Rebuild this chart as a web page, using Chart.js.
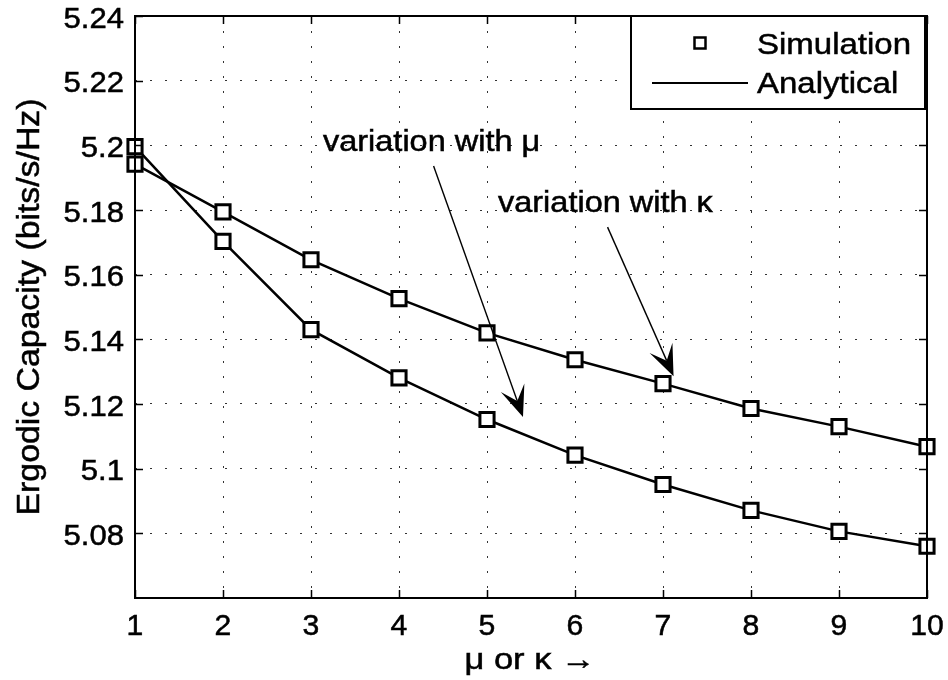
<!DOCTYPE html>
<html>
<head>
<meta charset="utf-8">
<script src="https://cdn.jsdelivr.net/npm/chart.js@4/dist/chart.umd.min.js"></script>
<style>
html, body { margin: 0; padding: 0; background: #fff; }
</style>
</head>
<body>
<canvas id="myChart" width="948" height="680"></canvas>
<script>
const xValues = [1, 2, 3, 4, 5, 6, 7, 8, 9, 10];
const muCapacity = [5.1996, 5.1703, 5.1430, 5.1281, 5.1152, 5.1042, 5.0951, 5.0871, 5.0806, 5.0760];
const kappaCapacity = [5.1942, 5.1794, 5.1646, 5.1526, 5.1420, 5.1337, 5.1263, 5.1186, 5.1130, 5.1068];
const xTickValues = [1, 2, 3, 4, 5, 6, 7, 8, 9, 10];
const yTickValues = [5.08, 5.1, 5.12, 5.14, 5.16, 5.18, 5.2, 5.22, 5.24];
const legendLabels = ['Simulation', 'Analytical'];
const xTitle = 'μ or κ →';
const yTitle = 'Ergodic Capacity (bits/s/Hz)';

// annotation text + arrows, in data coordinates
const notes = [
    { text: 'variation with μ', x: 3.136, y: 5.1983, from: [4.393, 5.1936], to: [5.409, 5.1160] },
    { text: 'variation with κ', x: 5.125, y: 5.1795, from: [6.370, 5.1747], to: [7.120, 5.1286] },
];

const FONT = '"Liberation Sans", Arial, sans-serif';

function toPoints(ys) {
    return xValues.map((x, i) => ({ x: x, y: ys[i] }));
}

// the reference text runs a bit wider and heavier than plain Arial
function drawText(ctx, text, x, y, size, sx, align, rot) {
    ctx.save();
    ctx.translate(x, y);
    if (rot) ctx.rotate(rot);
    ctx.scale(sx, 1);
    ctx.font = size + 'px ' + FONT;
    ctx.textAlign = align;
    ctx.textBaseline = 'alphabetic';
    ctx.fillStyle = '#000';
    ctx.strokeStyle = '#000';
    ctx.lineWidth = 0.5;
    ctx.fillText(text, 0, 0);
    ctx.strokeText(text, 0, 0);
    ctx.restore();
}

function drawArrow(ctx, x0, y0, x1, y1) {
    const dx = x1 - x0, dy = y1 - y0;
    const len = Math.sqrt(dx * dx + dy * dy);
    const ux = dx / len, uy = dy / len;
    const nx = -uy, ny = ux;
    const L = 31, W = 12.5, N = 17;
    ctx.save();
    ctx.strokeStyle = '#000';
    ctx.lineWidth = 1.4;
    ctx.beginPath();
    ctx.moveTo(x0, y0);
    ctx.lineTo(x1 - ux * N, y1 - uy * N);
    ctx.stroke();
    ctx.fillStyle = '#000';
    ctx.beginPath();
    ctx.moveTo(x1, y1);
    ctx.lineTo(x1 - ux * L + nx * W, y1 - uy * L + ny * W);
    ctx.lineTo(x1 - ux * N, y1 - uy * N);
    ctx.lineTo(x1 - ux * L - nx * W, y1 - uy * L - ny * W);
    ctx.closePath();
    ctx.fill();
    ctx.restore();
}

const matlabFrame = {
    id: 'matlabFrame',
    afterDatasetsDraw(chart) {
        const ctx = chart.ctx;
        const a = chart.chartArea;
        const xs = chart.scales.x, ys = chart.scales.y;
        ctx.save();
        ctx.strokeStyle = '#000';
        ctx.lineWidth = 2;
        ctx.strokeRect(a.left, a.top, a.right - a.left, a.bottom - a.top);
        ctx.lineWidth = 1.5;
        ctx.beginPath();
        xs.ticks.forEach(t => {
            const px = Math.round(xs.getPixelForValue(t.value)) + 0.5;
            ctx.moveTo(px, a.bottom); ctx.lineTo(px, a.bottom - 8);
            ctx.moveTo(px, a.top); ctx.lineTo(px, a.top + 8);
        });
        ys.ticks.forEach(t => {
            const py = Math.round(ys.getPixelForValue(t.value)) + 0.5;
            ctx.moveTo(a.left, py); ctx.lineTo(a.left + 8, py);
            ctx.moveTo(a.right, py); ctx.lineTo(a.right - 8, py);
        });
        ctx.stroke();
        ctx.restore();
    },
    afterDraw(chart) {
        const ctx = chart.ctx;
        const a = chart.chartArea;
        const xs = chart.scales.x, ys = chart.scales.y;

        // tick labels
        xs.ticks.forEach(t => {
            drawText(ctx, String(t.value), xs.getPixelForValue(t.value), a.bottom + 37, 29, 1.04, 'center');
        });
        ys.ticks.forEach(t => {
            const label = parseFloat(t.value.toFixed(2)).toString();
            drawText(ctx, label, a.left - 11, ys.getPixelForValue(t.value) + 11.5, 29, 1.07, 'right');
        });

        // axis titles
        drawText(ctx, xTitle, (a.left + a.right) / 2 - 1, a.bottom + 71, 30, 1.15, 'center');
        drawText(ctx, yTitle, 39, (a.top + a.bottom) / 2, 31, 1.09, 'center', -Math.PI / 2);

        // annotations
        notes.forEach(n => {
            drawText(ctx, n.text, xs.getPixelForValue(n.x), ys.getPixelForValue(n.y), 29, 1.12, 'left');
            drawArrow(ctx,
                xs.getPixelForValue(n.from[0]), ys.getPixelForValue(n.from[1]),
                xs.getPixelForValue(n.to[0]), ys.getPixelForValue(n.to[1]));
        });

        // legend box, top right, touching the top axis
        const lx = a.right - 296, ly = a.top, lw = 294, lh = 93;
        ctx.save();
        ctx.fillStyle = '#fff';
        ctx.fillRect(lx, ly, lw, lh);
        ctx.strokeStyle = '#000';
        ctx.lineWidth = 2;
        ctx.strokeRect(lx, ly, lw, lh);
        ctx.lineWidth = 2.5;
        ctx.strokeRect(lx + 63.5, ly + 21.5, 11, 11);
        ctx.lineWidth = 2;
        ctx.beginPath();
        ctx.moveTo(lx + 21, ly + 67);
        ctx.lineTo(lx + 117, ly + 67);
        ctx.stroke();
        ctx.restore();
        drawText(ctx, legendLabels[0], lx + 126, ly + 38, 30, 1.1, 'left');
        drawText(ctx, legendLabels[1], lx + 126, ly + 77, 30, 1.1, 'left');
    }
};

const lineStyle = {
    borderColor: '#000',
    borderWidth: 2.5,
    pointRadius: 0,
    fill: false,
    tension: 0,
    clip: false,
    order: 2,
};
const markerStyle = {
    showLine: false,
    pointStyle: 'rect',
    pointRadius: 10,
    pointBorderWidth: 3,
    pointBorderColor: '#000',
    pointBackgroundColor: '#fff',
    borderColor: '#000',
    backgroundColor: '#fff',
    clip: false,
    order: 1,
};

const data = {
    datasets: [
        Object.assign({ label: legendLabels[1], data: toPoints(muCapacity) }, lineStyle),
        Object.assign({ label: legendLabels[1], data: toPoints(kappaCapacity) }, lineStyle),
        Object.assign({ label: legendLabels[0], data: toPoints(muCapacity) }, markerStyle),
        Object.assign({ label: legendLabels[0], data: toPoints(kappaCapacity) }, markerStyle),
    ]
};

const gridStyle = {
    color: '#333',
    lineWidth: 1,
    drawTicks: false,
};

const config = {
    type: 'line',
    data: data,
    options: {
        responsive: false,
        animation: false,
        devicePixelRatio: 1,
        layout: {
            padding: { left: 0, right: 21, top: 16, bottom: 0 },
        },
        scales: {
            x: {
                type: 'linear',
                min: 1,
                max: 10,
                afterBuildTicks: s => { s.ticks = xTickValues.map(v => ({ value: v })); },
                afterFit: s => { s.height = 82; },
                ticks: { display: false },
                grid: gridStyle,
                border: { display: false, dash: [2, 13] },
            },
            y: {
                type: 'linear',
                min: 5.06,
                max: 5.24,
                afterBuildTicks: s => { s.ticks = yTickValues.map(v => ({ value: v })); },
                afterFit: s => { s.width = 135; },
                ticks: { display: false },
                grid: gridStyle,
                border: { display: false, dash: [2, 13] },
            }
        },
        plugins: {
            legend: { display: false },
            tooltip: { enabled: false },
        }
    },
    plugins: [matlabFrame]
};

const ctx = document.getElementById('myChart').getContext('2d');
new Chart(ctx, config);
</script>
</body>
</html>
